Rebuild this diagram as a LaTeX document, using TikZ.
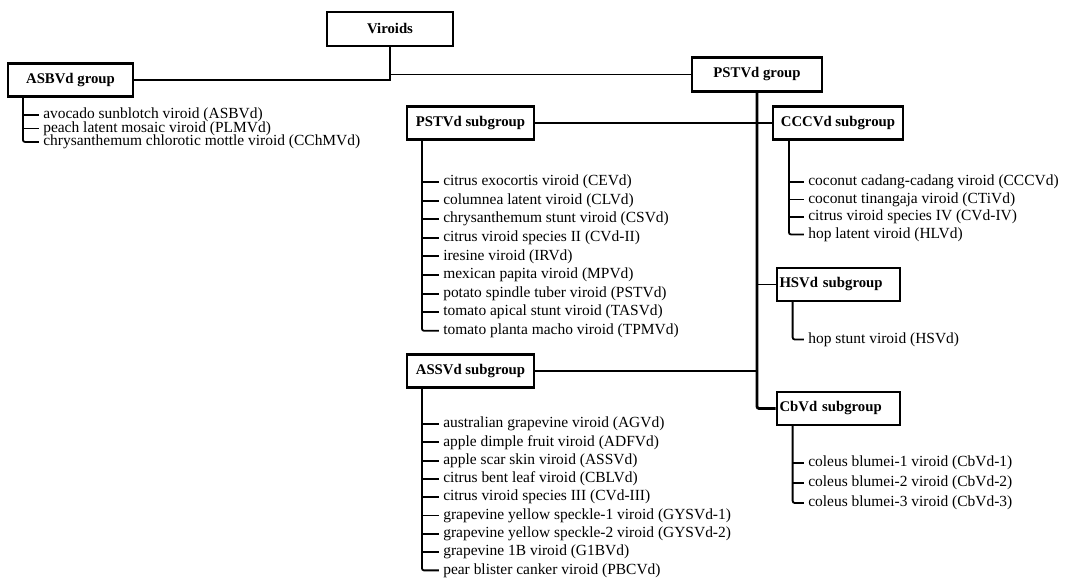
\documentclass[tikz,border=0pt]{standalone}
\usepackage{fontspec}
\setmainfont{Liberation Serif}
\usetikzlibrary{positioning}

\tikzset{
  grpbox/.style={draw, line width=1.5pt, font=\fontsize{10.5}{12}\selectfont\bfseries,
    minimum height=0.825cm, inner sep=2pt},
  leftbox/.style={grpbox, text width=2.95cm, align=left},
  leaf/.style={font=\fontsize{11}{13}\selectfont, anchor=west, inner sep=0pt},
  link/.style={line width=1.3pt},
  trunk/.style={line width=2pt, rounded corners=1.5pt},
  twig/.style={line width=1.3pt, rounded corners=1.5pt, shorten >=3pt},
}

\begin{document}
\begin{tikzpicture}
  \useasboundingbox (0,0) rectangle (26.95,14.675);

  % Root and groups
  \node[grpbox, minimum width=3.15cm, minimum height=0.85cm] (viroids) at (9.75,13.95) {Viroids};
  \node[grpbox, minimum width=3.125cm] (asbvd) at (1.7625,12.675) {ASBVd group};
  \node[grpbox, minimum width=3.25cm, minimum height=0.85cm] (pstvd) at (18.925,12.8125) {PSTVd group};

  \draw[link] (asbvd.east) -| (viroids.south);
  \draw[link] (viroids.south) |- (pstvd.west);

  % Subgroups
  \node[grpbox, minimum width=3.175cm] (pstsub) at (11.7625,11.6) {PSTVd subgroup};
  \node[grpbox, minimum width=3.175cm] (assvsub) at (11.7625,5.4) {ASSVd subgroup};
  \node[grpbox, minimum width=3.25cm] (cccsub) at (20.95,11.6) {CCCVd subgroup};
  \node[leftbox] (hsvsub) at (20.9625,7.5625) {HSVd subgroup};
  \node[leftbox] (cbvsub) at (20.9625,4.4625) {CbVd subgroup};

  \draw[trunk] (pstvd.south) |- (cbvsub.west);
  \draw[link] (pstsub.east) -- (cccsub.west);
  \draw[link] (pstvd.south |- hsvsub.west) -- (hsvsub.west);
  \draw[link] (assvsub.east) -- (assvsub.east -| pstvd.south);

  % ASBVd group members
  \coordinate (asbvdT) at ([xshift=0.4cm]asbvd.south west);
  \foreach \txt [count=\i] in {avocado sunblotch viroid (ASBVd),
      peach latent mosaic viroid (PLMVd),
      chrysanthemum chlorotic mottle viroid (CChMVd)}
    \node[leaf] (asbvd\i) at (1.075,{11.8-0.3375*(\i-1)}) {\txt};
  \draw[twig] (asbvdT) |- (asbvd3.west);
  \foreach \i in {1,2}
    \draw[twig] (asbvdT |- asbvd\i.west) -- (asbvd\i.west);

  % PSTVd subgroup members
  \coordinate (pstsubT) at ([xshift=0.4cm]pstsub.south west);
  \foreach \txt [count=\i] in {citrus exocortis viroid (CEVd),
      columnea latent viroid (CLVd),
      chrysanthemum stunt viroid (CSVd),
      citrus viroid species II (CVd-II),
      iresine viroid (IRVd),
      mexican papita viroid (MPVd),
      potato spindle tuber viroid (PSTVd),
      tomato apical stunt viroid (TASVd),
      tomato planta macho viroid (TPMVd)}
    \node[leaf] (pst\i) at (11.075,{10.125-0.465*(\i-1)}) {\txt};
  \draw[twig] (pstsubT) |- (pst9.west);
  \foreach \i in {1,...,8}
    \draw[twig] (pstsubT |- pst\i.west) -- (pst\i.west);

  % ASSVd subgroup members
  \coordinate (assvsubT) at ([xshift=0.4cm]assvsub.south west);
  \foreach \txt [count=\i] in {australian grapevine viroid (AGVd),
      apple dimple fruit viroid (ADFVd),
      apple scar skin viroid (ASSVd),
      citrus bent leaf viroid (CBLVd),
      citrus viroid species III (CVd-III),
      grapevine yellow speckle-1 viroid (GYSVd-1),
      grapevine yellow speckle-2 viroid (GYSVd-2),
      grapevine 1B viroid (G1BVd),
      pear blister canker viroid (PBCVd)}
    \node[leaf] (assv\i) at (11.075,{4.075-0.4575*(\i-1)}) {\txt};
  \draw[twig] (assvsubT) |- (assv9.west);
  \foreach \i in {1,...,8}
    \draw[twig] (assvsubT |- assv\i.west) -- (assv\i.west);

  % CCCVd subgroup members
  \coordinate (cccsubT) at ([xshift=0.425cm]cccsub.south west);
  \foreach \txt [count=\i] in {coconut cadang-cadang viroid (CCCVd),
      coconut tinangaja viroid (CTiVd),
      citrus viroid species IV (CVd-IV),
      hop latent viroid (HLVd)}
    \node[leaf] (ccc\i) at (20.2,{10.125-0.4375*(\i-1)}) {\txt};
  \draw[twig] (cccsubT) |- (ccc4.west);
  \foreach \i in {1,2,3}
    \draw[twig] (cccsubT |- ccc\i.west) -- (ccc\i.west);

  % HSVd subgroup member
  \coordinate (hsvsubT) at ([xshift=0.425cm]hsvsub.south west);
  \node[leaf] (hsv1) at (20.2,6.1875) {hop stunt viroid (HSVd)};
  \draw[twig] (hsvsubT) |- (hsv1.west);

  % CbVd subgroup members
  \coordinate (cbvsubT) at ([xshift=0.425cm]cbvsub.south west);
  \foreach \txt [count=\i] in {coleus blumei-1 viroid (CbVd-1),
      coleus blumei-2 viroid (CbVd-2),
      coleus blumei-3 viroid (CbVd-3)}
    \node[leaf] (cbv\i) at (20.2,{3.1-0.5*(\i-1)}) {\txt};
  \draw[twig] (cbvsubT) |- (cbv3.west);
  \foreach \i in {1,2}
    \draw[twig] (cbvsubT |- cbv\i.west) -- (cbv\i.west);
\end{tikzpicture}
\end{document}
